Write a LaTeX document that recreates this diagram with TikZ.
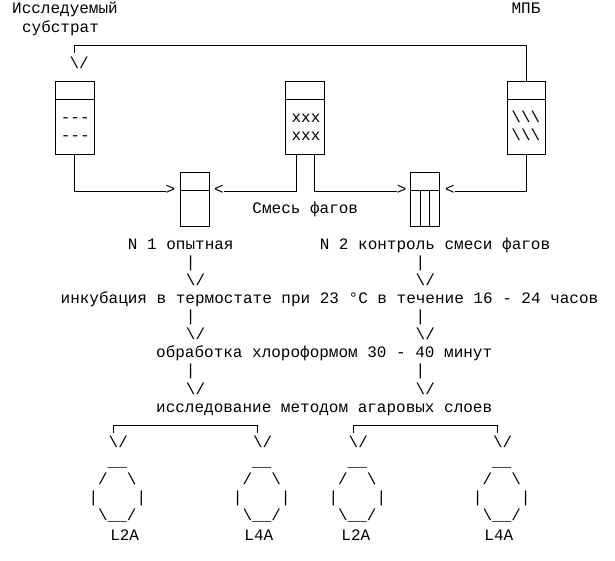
\documentclass[tikz,border=0pt]{standalone}
\usepackage{fontspec}
\setmainfont{Liberation Mono}
\setmonofont{Liberation Mono}
\tikzset{
  txt/.style={font=\ttfamily\fontsize{16pt}{18pt}\selectfont, inner sep=0pt, outer sep=0pt, text height=11pt, text depth=4pt, anchor=base},
  rowtxt/.style={txt, anchor=base west},
  tube/.style={draw, line width=1pt, inner sep=0pt, outer sep=0pt, minimum width=38.5pt, minimum height=73.3pt},
  vial/.style={draw, line width=1pt, inner sep=0pt, outer sep=0pt, minimum width=28.3pt, minimum height=54.4pt},
  wire/.style={line width=1pt},
}
\begin{document}
\begin{tikzpicture}[x=1pt,y=-1pt]
\fill[white] (0,0) rectangle (615,560);
\useasboundingbox (0,0) rectangle (615,560);

% top labels
\node[txt] (subj1) at (65,13.9) {Исследуемый};
\node[txt] (subj2) at (60.5,32) {субстрат};
\node[txt] (mpb) at (526,13.9) {МПБ};
\node[txt] (v0) at (79.2,68.2) {\textbackslash/};

% tubes
\node[tube] (bA) at (74.75,117.65) {};
\node[tube] (bB) at (305.15,117.65) {};
\node[tube] (bC) at (526.65,117.65) {};
\foreach \b in {bA,bB,bC}{
  \draw[wire] ([yshift=-18.3pt]\b.north west) -- ([yshift=-18.3pt]\b.north east);
}
\node[txt] (dA1) at (75.3,122.5) {-{}-{}-};
\node[txt] (dA2) at (75.3,140.6) {-{}-{}-};
\node[txt] (xB1) at (306,122.5) {xxx};
\node[txt] (xB2) at (306,140.6) {xxx};
\node[txt] (hC1) at (525.8,122.5) {\textbackslash\textbackslash\textbackslash};
\node[txt] (hC2) at (525.8,140.6) {\textbackslash\textbackslash\textbackslash};

% small vials
\node[vial] (sA) at (195.1,199.5) {};
\node[vial] (sB) at (425.1,199.5) {};
\draw[wire] ([yshift=-18.4pt]sA.north west) -- ([yshift=-18.4pt]sA.north east);
\draw[wire] ([yshift=-18.4pt]sB.north west) -- ([yshift=-18.4pt]sB.north east);
\draw[wire] ([yshift=-18.4pt,xshift=9.43pt]sB.north west) -- ([xshift=9.43pt]sB.south west);
\draw[wire] ([yshift=-18.4pt,xshift=-9.43pt]sB.north east) -- ([xshift=-9.43pt]sB.south east);

% arrow glyphs
\node[txt] (gt1) at (170.5,194.9) {>};
\node[txt] (lt1) at (218.8,194.9) {<};
\node[txt] (gt2) at (401.7,194.9) {>};
\node[txt] (lt2) at (449.8,194.9) {<};

% connectors
\coordinate (topend) at (bA.north |- 0,53.3);
\draw[wire] (bC.north) |- (74.75,45) -- (topend);
\draw[wire] (bA.south) |- (gt1.west);
\draw[wire] (lt1.east) -| ([xshift=-8.5pt]bB.south);
\draw[wire] ([xshift=9.1pt]bB.south) |- (gt2.west);
\draw[wire] (lt2.east) -| (bC.south);

\node[txt] (mix) at (305.3,213.0) {Смесь фагов};
\node[txt] (n1) at (180.8,249.2) {N 1 опытная};
\node[txt] (n2) at (435,249.2) {N 2 контроль смеси фагов};

% ascii arrows
\foreach \k/\y in {1/267.3,2/321.6,3/375.9}{
  \node[txt] (pl\k) at (190.7,\y) {|};
  \node[txt] (pr\k) at (420.5,\y) {|};
}
\foreach \k/\y in {1/285.4,2/339.7,3/394.0}{
  \node[txt] (al\k) at (195.5,\y) {\textbackslash/};
  \node[txt] (ar\k) at (425.3,\y) {\textbackslash/};
}

\node[txt] (inc) at (329.5,303.5) {инкубация в термостате при 23 °C в течение 16 - 24 часов};
\node[txt] (obr) at (324.2,357.8) {обработка хлороформом 30 - 40 минут};
\node[txt] (iss) at (324.2,412.1) {исследование методом агаровых слоев};

% brackets
\foreach \i/\x in {1/118.3,2/262.7,3/358.3,4/502.7}{
  \node[txt] (w\i) at (\x,447.5) {\textbackslash/};
}
\coordinate (c1) at (113.3,433.3);
\coordinate (c2) at (257.5,433.3);
\coordinate (c3) at (353.1,433.3);
\coordinate (c4) at (497.7,433.3);
\draw[wire] (c1) -- ++(0,-7.6) -| (c2);
\draw[wire] (c3) -- ++(0,-7.6) -| (c4);

% octagons
\foreach \i/\ox in {1/88.5,2/232.9,3/328.5,4/472.9}{
  \node[rowtxt] (o\i a) at (\ox,466.4) {~~\_\_};
  \node[rowtxt] (o\i b) at (\ox,484.5) {~/~~\textbackslash};
  \node[rowtxt] (o\i c) at (\ox,502.6) {|~~~~|};
  \node[rowtxt] (o\i d) at (\ox,520.7) {~\textbackslash\_\_/};
}
\node[txt] (l1) at (124.7,540.5) {L2A};
\node[txt] (l2) at (258.8,540.5) {L4A};
\node[txt] (l3) at (355.8,540.5) {L2A};
\node[txt] (l4) at (498.8,540.5) {L4A};
\end{tikzpicture}
\end{document}
